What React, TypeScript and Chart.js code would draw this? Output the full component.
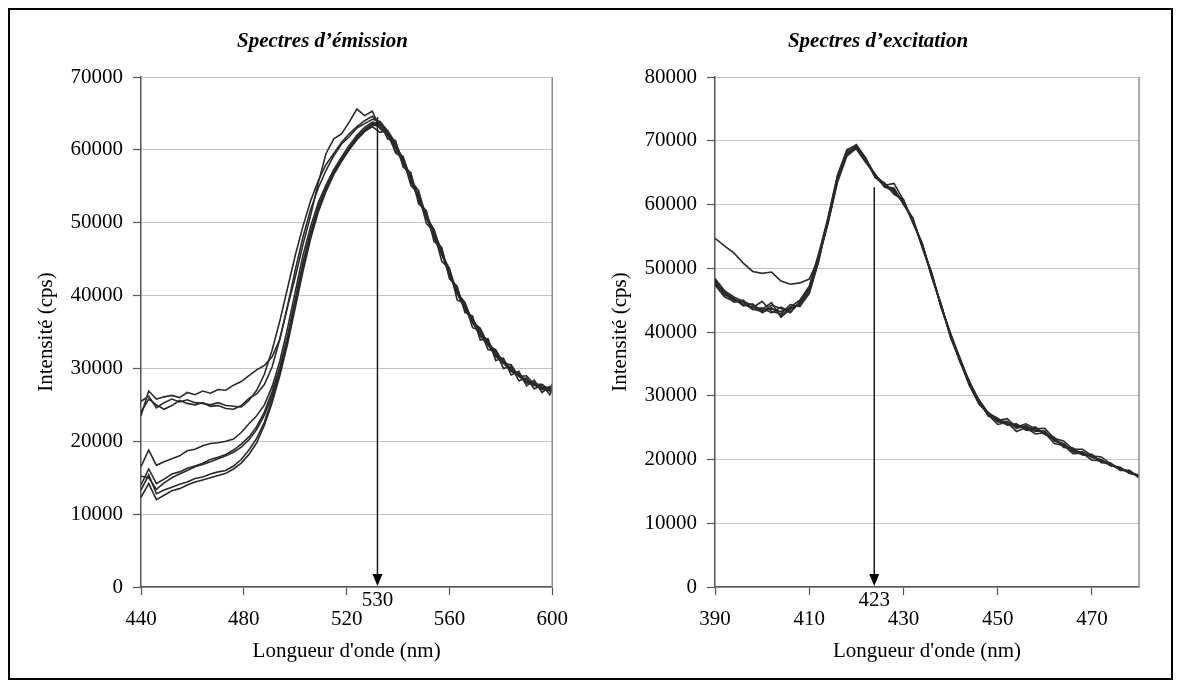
import React, { useEffect, useRef } from "react";
import { Chart, registerables } from "chart.js";

Chart.register(...registerables);

const FONT = "'Liberation Serif', 'Times New Roman', Times, serif";

// ---------- Emission spectra (left) ----------
const emissionWavelengths = [440, 443, 446, 449, 452, 455, 458, 461, 464, 467, 470, 473, 476, 479, 482, 485, 488, 491, 494, 497, 500, 503, 506, 509, 512, 515, 518, 521, 524, 527, 530, 533, 536, 539, 542, 545, 548, 551, 554, 557, 560, 563, 566, 569, 572, 575, 578, 581, 584, 587, 590, 593, 596, 599, 600];

const emissionA = [23500, 26900, 25800, 26100, 26300, 26000, 26700, 26400, 26900, 26600, 27100, 27000, 27700, 28200, 29000, 29800, 30400, 31600, 34000, 38500, 42500, 47000, 51000, 55500, 59500, 61500, 62200, 63800, 65600, 64700, 65300, 62900, 62100, 59800, 59100, 55800, 54400, 50700, 49100, 45700, 43700, 40300, 39100, 36400, 35500, 33200, 32600, 30700, 30500, 28900, 29000, 27800, 27800, 27000, 27900];
const emissionB = [25500, 26200, 24600, 25300, 25800, 25400, 25700, 25300, 25200, 25000, 25300, 24900, 24800, 24700, 25600, 27000, 29200, 32500, 36500, 41000, 45500, 49500, 53000, 55800, 58000, 59500, 61000, 62200, 63200, 64000, 64600, 63500, 62200, 60600, 58800, 56000, 53700, 51000, 48900, 46000, 43000, 40500, 38700, 36500, 35300, 33400, 32300, 30900, 30000, 29000, 28500, 27800, 27800, 27100, 27500];
const emissionC = [24000, 25800, 25000, 24400, 24900, 25600, 25200, 25000, 25300, 24800, 24900, 24500, 24400, 24900, 25900, 26500, 27800, 30200, 34000, 38500, 43500, 48000, 51800, 54800, 57200, 59200, 60800, 61800, 63000, 63600, 64200, 63900, 62600, 61000, 58500, 56400, 53400, 51300, 48400, 46400, 42800, 40900, 38300, 36800, 34900, 33800, 32000, 31200, 29800, 29300, 28200, 28100, 27400, 27400, 27000];
const emissionD = [16500, 18800, 16700, 17200, 17600, 18000, 18700, 18900, 19400, 19700, 19800, 20000, 20300, 21200, 22400, 23500, 25000, 27500, 31000, 35500, 40500, 45500, 49500, 52800, 55200, 57300, 59000, 60600, 62000, 63100, 63800, 63600, 62300, 60300, 58500, 55600, 53500, 50700, 48300, 45600, 43300, 40200, 38400, 36300, 34600, 33300, 31800, 30700, 29800, 28900, 28200, 27900, 27300, 26900, 27400];
const emissionE = [14000, 16200, 14200, 14800, 15500, 15800, 16300, 16600, 17000, 17500, 17800, 18200, 18800, 19600, 20600, 22000, 24000, 26800, 30200, 34500, 39500, 44500, 48800, 52300, 54800, 57000, 58800, 60300, 61800, 62800, 63600, 63400, 62400, 60700, 58300, 56200, 53200, 51000, 48000, 45900, 43000, 40600, 38200, 36600, 34400, 33500, 31600, 30900, 29600, 29100, 28000, 28000, 27100, 27100, 27000];
const emissionF = [15200, 15000, 13400, 14300, 15000, 15500, 16000, 16500, 16800, 17200, 17600, 18000, 18500, 19200, 20200, 21600, 23600, 26300, 29800, 34000, 39000, 44000, 48400, 52000, 54600, 56800, 58600, 60200, 61500, 62600, 63300, 63700, 61500, 61300, 57600, 56900, 52600, 51700, 47400, 46600, 42300, 41300, 37700, 37200, 33900, 34100, 31100, 31400, 29100, 29600, 27600, 28400, 26700, 27500, 26600];
const emissionG = [12300, 14200, 12000, 12600, 13200, 13500, 14000, 14400, 14700, 15000, 15300, 15600, 16200, 17000, 18200, 19800, 22200, 25300, 29000, 33300, 38300, 43300, 47800, 51500, 54300, 56600, 58400, 60000, 61400, 62500, 63200, 62400, 62600, 59600, 58800, 55100, 54000, 49900, 48800, 44700, 43700, 39400, 38900, 35600, 35200, 32600, 32400, 30000, 30300, 28300, 28700, 27200, 27800, 26400, 27200];
const emissionH = [13300, 15400, 12800, 13300, 13700, 14100, 14400, 14900, 15100, 15500, 15800, 16000, 16600, 17500, 18800, 20400, 22600, 25800, 29400, 33800, 38800, 43800, 48200, 51800, 54500, 56800, 58600, 60100, 61600, 62700, 63500, 63100, 62000, 60500, 58000, 56000, 53100, 50800, 47900, 45700, 42800, 40400, 38100, 36400, 34500, 33200, 31700, 30800, 29700, 29000, 28100, 27700, 27200, 27000, 27500];

const emissionXTicks = [440, 480, 520, 560, 600];
const emissionPeak = 532;
const emissionPeakTop = 64500;
const emissionPeakLabel = "530";

// ---------- Excitation spectra (right) ----------
const excitationWavelengths = [390, 392, 394, 396, 398, 400, 402, 404, 406, 408, 410, 412, 414, 416, 418, 420, 422, 424, 426, 428, 430, 432, 434, 436, 438, 440, 442, 444, 446, 448, 450, 452, 454, 456, 458, 460, 462, 464, 466, 468, 470, 472, 474, 476, 478, 480];

const excitationA = [54700, 53500, 52400, 50800, 49500, 49200, 49400, 48000, 47500, 47700, 48300, 51500, 57000, 63500, 67600, 68800, 66800, 64300, 62900, 61900, 60300, 57300, 53700, 48800, 44200, 39300, 35800, 31800, 29300, 26800, 26400, 25600, 25400, 24800, 24900, 24000, 23400, 22000, 21700, 20800, 20700, 19600, 19400, 18400, 18200, 17200];
const excitationB = [48200, 45800, 45200, 44300, 43800, 44800, 43200, 42900, 44300, 44000, 46000, 51000, 57800, 64500, 68400, 69400, 67300, 64200, 63400, 61600, 60800, 57100, 53800, 48700, 44300, 39200, 35700, 31700, 28700, 27200, 25900, 26000, 24900, 25300, 24400, 24500, 22900, 22400, 21200, 21200, 20300, 20000, 19000, 18800, 17800, 17600];
const excitationC = [47600, 46300, 44700, 45000, 43600, 43200, 44200, 43700, 43000, 44800, 46800, 52000, 57200, 63700, 68200, 68700, 66600, 64800, 62700, 62400, 60200, 57800, 53300, 49300, 43800, 39700, 35300, 32300, 28800, 27400, 26000, 25500, 25500, 24700, 25100, 23900, 23500, 21900, 21800, 20700, 20800, 19500, 19400, 18300, 18300, 17100];
const excitationD = [47900, 46200, 45300, 44100, 44400, 43000, 43800, 42600, 43800, 44200, 46200, 51300, 57600, 64200, 68000, 69200, 67200, 64600, 63200, 61800, 60600, 57400, 53600, 49100, 43900, 39600, 35600, 31900, 29100, 26900, 26300, 25700, 25300, 25100, 24600, 24300, 23100, 22300, 21400, 21100, 20400, 19900, 19100, 18700, 17900, 17500];
const excitationE = [47400, 45500, 44800, 44700, 43500, 43800, 43000, 43900, 43200, 44600, 46900, 51800, 57300, 63900, 67800, 69000, 67100, 64400, 63100, 62200, 60400, 57600, 53400, 49200, 44100, 39400, 35400, 32100, 29200, 27100, 26100, 26400, 25100, 25600, 24800, 24900, 23300, 22900, 21600, 21600, 20600, 20400, 19300, 18500, 18100, 17300];
const excitationF = [48400, 46500, 45500, 44800, 44200, 43400, 43600, 43200, 43900, 45000, 47200, 52300, 58000, 64600, 68600, 69300, 66900, 64700, 62800, 62600, 60000, 57900, 53200, 48900, 44000, 39800, 35900, 32200, 29400, 27300, 26500, 25400, 25600, 24600, 24500, 24400, 23000, 22500, 21300, 20800, 20500, 19800, 19200, 18600, 18000, 17400];
const excitationG = [47700, 45900, 45000, 44400, 43900, 43600, 44600, 42300, 43600, 44400, 46600, 51600, 57400, 64100, 68100, 68900, 67000, 64500, 63000, 63300, 60700, 57200, 53900, 48600, 44400, 39100, 35400, 31600, 29000, 27000, 25500, 25800, 24400, 25000, 24000, 24200, 22500, 22200, 20900, 21000, 19900, 19800, 19100, 18600, 17900, 17400];

const excitationXTicks = [390, 410, 430, 450, 470];
const excitationPeak = 423.8;
const excitationPeakTop = 62700;
const excitationPeakLabel = "423";

const yTitle = "Intensité (cps)";
const xTitle = "Longueur d'onde (nm)";

const CANVAS_H = 668;

const decorPlugin = {
  id: "decor",
  afterDatasetsDraw(chart: any, _args: any, opts: any) {
    const { ctx, chartArea } = chart;
    const xs = chart.scales.x;
    const ys = chart.scales.y;
    ctx.save();
    // plot-area right border
    ctx.strokeStyle = "#8c8c8c";
    ctx.lineWidth = 1.5;
    ctx.beginPath();
    ctx.moveTo(chartArea.right, chartArea.top);
    ctx.lineTo(chartArea.right, chartArea.bottom);
    ctx.stroke();
    // peak arrow
    const px = xs.getPixelForValue(opts.arrowX);
    const pt = ys.getPixelForValue(opts.arrowTopY);
    const pb = chartArea.bottom - 1;
    ctx.strokeStyle = "#1a1a1a";
    ctx.lineWidth = 1.5;
    ctx.beginPath();
    ctx.moveTo(px, pt);
    ctx.lineTo(px, pb - 10);
    ctx.stroke();
    ctx.fillStyle = "#000";
    ctx.beginPath();
    ctx.moveTo(px - 5, pb - 12);
    ctx.lineTo(px + 5, pb - 12);
    ctx.lineTo(px, pb);
    ctx.closePath();
    ctx.fill();
    ctx.font = `21px ${FONT}`;
    ctx.textAlign = "center";
    ctx.textBaseline = "middle";
    ctx.fillText(opts.arrowLabel, px, chartArea.bottom + 13);
    // panel title
    ctx.font = `italic bold 21px ${FONT}`;
    ctx.textBaseline = "alphabetic";
    ctx.fillText(opts.title, opts.titleX, opts.titleY);
    ctx.restore();
  },
};

type PanelProps = {
  left: number;
  width: number;
  padRight: number;
  xs: number[];
  series: number[][];
  xMin: number;
  xMax: number;
  xTicks: number[];
  yMax: number;
  title: string;
  titleX: number;
  arrowX: number;
  arrowTopY: number;
  arrowLabel: string;
};

function Panel(p: PanelProps) {
  const ref = useRef<HTMLCanvasElement>(null);
  useEffect(() => {
    const tickFont = { family: FONT, size: 21 };
    const chart = new Chart(ref.current as HTMLCanvasElement, {
      type: "line",
      data: {
        datasets: p.series.map((s) => ({
          data: p.xs.map((x, i) => ({ x, y: s[i] })),
          borderColor: "#2b2b2b",
          borderWidth: 1.6,
          pointRadius: 0,
          tension: 0,
          fill: false,
        })),
      },
      options: {
        animation: false,
        responsive: false,
        devicePixelRatio: 1,
        layout: { autoPadding: false, padding: { left: 0, right: p.padRight, top: 67, bottom: 14 } },
        plugins: {
          legend: { display: false },
          tooltip: { enabled: false },
          decor: {
            title: p.title,
            titleX: p.titleX,
            titleY: 37,
            arrowX: p.arrowX,
            arrowTopY: p.arrowTopY,
            arrowLabel: p.arrowLabel,
          },
        } as any,
        scales: {
          x: {
            type: "linear",
            min: p.xMin,
            max: p.xMax,
            afterBuildTicks: (s: any) => {
              s.ticks = p.xTicks.map((v) => ({ value: v }));
            },
            afterFit: (s: any) => {
              s.height = 77;
            },
            grid: { drawOnChartArea: false, drawTicks: true, tickLength: 8, tickColor: "#555", tickWidth: 1.2 },
            border: { display: true, color: "#555", width: 1.5 },
            ticks: {
              color: "#000",
              font: tickFont,
              padding: 12,
              maxRotation: 0,
              autoSkip: false,
              callback: (v: any) => String(v),
            },
            title: { display: true, text: xTitle, color: "#000", font: tickFont, padding: { top: 0, bottom: 0 } },
          },
          y: {
            type: "linear",
            min: 0,
            max: p.yMax,
            afterFit: (s: any) => {
              s.width = 131;
            },
            grid: { color: "#c4c4c4", lineWidth: 1, drawTicks: true, tickLength: 8, tickColor: "#555", tickWidth: 1.2 },
            border: { display: true, color: "#555", width: 1.5 },
            ticks: {
              stepSize: 10000,
              color: "#000",
              font: tickFont,
              padding: 10,
              callback: (v: any) => String(v),
            },
            title: { display: true, text: yTitle, color: "#000", font: tickFont, padding: { top: 24, bottom: 0 } },
          },
        },
      } as any,
      plugins: [decorPlugin],
    });
    return () => chart.destroy();
  }, []);
  return (
    <canvas
      ref={ref}
      width={p.width}
      height={CANVAS_H}
      style={{ position: "absolute", left: p.left, top: 0, width: p.width, height: CANVAS_H }}
    />
  );
}

export default function App() {
  return (
    <div
      style={{
        position: "relative",
        width: 1165,
        height: 672,
        border: "2px solid #000",
        boxSizing: "border-box",
        background: "#fff",
      }}
    >
      <Panel
        left={0}
        width={570}
        padRight={17}
        xs={emissionWavelengths}
        series={[emissionA, emissionB, emissionC, emissionD, emissionE, emissionF, emissionG, emissionH]}
        xMin={440}
        xMax={600}
        xTicks={emissionXTicks}
        yMax={70000}
        title="Spectres d’émission"
        titleX={312.5}
        arrowX={emissionPeak}
        arrowTopY={emissionPeakTop}
        arrowLabel={emissionPeakLabel}
      />
      <Panel
        left={574}
        width={580}
        padRight={25}
        xs={excitationWavelengths}
        series={[excitationA, excitationB, excitationC, excitationD, excitationE, excitationF, excitationG]}
        xMin={390}
        xMax={480}
        xTicks={excitationXTicks}
        yMax={80000}
        title="Spectres d’excitation"
        titleX={294}
        arrowX={excitationPeak}
        arrowTopY={excitationPeakTop}
        arrowLabel={excitationPeakLabel}
      />
    </div>
  );
}
